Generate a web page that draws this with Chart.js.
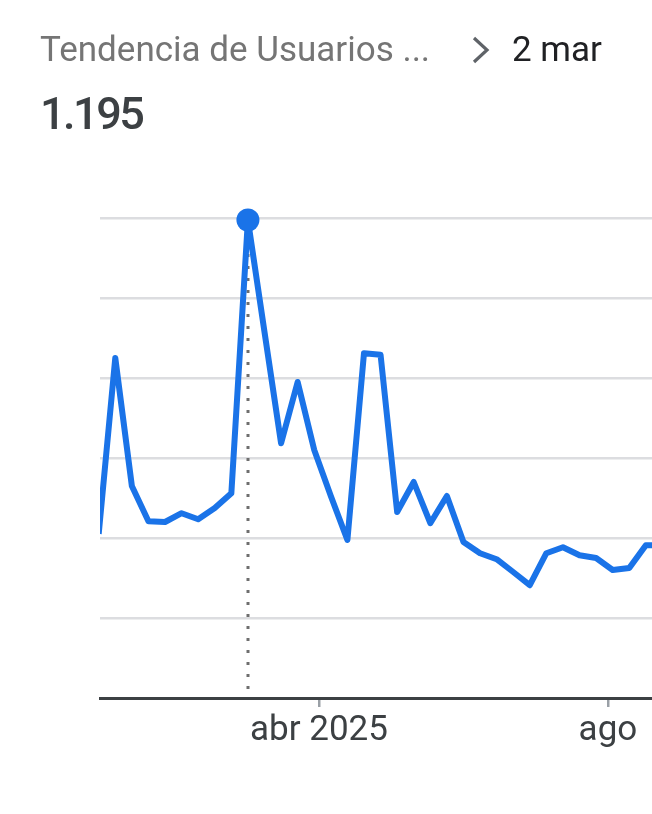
<!DOCTYPE html>
<html><head><meta charset="utf-8">
<script src="https://cdn.jsdelivr.net/npm/chart.js@4"></script>
<style>
html,body{margin:0;padding:0;background:#fff;width:652px;height:814px;overflow:hidden;font-family:Roboto,sans-serif}
#wrap{position:relative;width:652px;height:814px}
canvas{position:absolute;left:0;top:0}
.title{position:absolute;left:40px;top:28px;font-size:35px;line-height:44px;color:#757575;white-space:nowrap}
.date{position:absolute;left:512px;top:28px;font-size:35px;line-height:44px;color:#202124;white-space:nowrap}
.value{position:absolute;left:40px;top:87px;font-size:45px;line-height:54px;font-weight:500;letter-spacing:-2.5px;color:#3c4043;white-space:nowrap}
svg.chev{position:absolute;left:470px;top:36px}
</style></head>
<body>
<div id="wrap">
<canvas id="c" width="652" height="814"></canvas>
<div class="title" id="title"></div>
<svg class="chev" width="24" height="30" viewBox="0 0 24 30"><polyline points="4,2 17,14 4,26" fill="none" stroke="#5f6368" stroke-width="3.2"/></svg>
<div class="date" id="date"></div>
<div class="value" id="value"></div>
</div>
<script>
// ---- data ----
const titleText = 'Tendencia de Usuarios ...';
const weeks = ['2024-12-29','2025-01-05','2025-01-12','2025-01-19','2025-01-26','2025-02-02','2025-02-09','2025-02-16','2025-02-23','2025-03-02','2025-03-09','2025-03-16','2025-03-23','2025-03-30','2025-04-06','2025-04-13','2025-04-20','2025-04-27','2025-05-04','2025-05-11','2025-05-18','2025-05-25','2025-06-01','2025-06-08','2025-06-15','2025-06-22','2025-06-29','2025-07-06','2025-07-13','2025-07-20','2025-07-27','2025-08-03','2025-08-10','2025-08-17','2025-08-24'];
const users = [410,850,530,442,440,462,447,475,512,1195,915,637,790,620,505,395,862,858,465,540,437,505,390,362,347,315,282,362,377,357,350,320,325,382,382];
const tickDates = ['2025-04-01','2025-08-01'];
const tickLabels = ['abr 2025','ago'];
const highlightIndex = 9;
const highlightLabel = '2 mar';
const yTicks = [0,200,400,600,800,1000,1200];

// ---- helpers ----
const dayNum = s => (Date.UTC(+s.slice(0,4), +s.slice(5,7)-1, +s.slice(8,10)) - Date.UTC(2025,0,1)) / 86400000;
document.getElementById('title').textContent = titleText;
document.getElementById('date').textContent = highlightLabel;
document.getElementById('value').textContent = String(users[highlightIndex]).replace(/\B(?=(\d{3})+(?!\d))/g,'.');

const points = weeks.map((w,i)=>({x:dayNum(w), y:users[i]}));

const dotted = {
  id:'dotted',
  beforeDatasetsDraw(chart){
    const c = chart.ctx, xs = chart.scales.x, ys = chart.scales.y;
    const p = points[highlightIndex];
    const x = Math.round(xs.getPixelForValue(p.x));
    c.save();
    c.strokeStyle = '#6e6e6e';
    c.lineWidth = 3;
    c.setLineDash([3, 9]);
    c.beginPath();
    c.moveTo(x, ys.getPixelForValue(p.y) + 10);
    c.lineTo(x, ys.getPixelForValue(0) - 4);
    c.stroke();
    c.restore();
  }
};

new Chart(document.getElementById('c'), {
  type:'line',
  data:{datasets:[{
    data:points,
    borderColor:'#1a73e8',
    borderWidth:6,
    tension:0,
    borderJoinStyle:'round',
    borderCapStyle:'butt',
    pointRadius: ctx => ctx.dataIndex===highlightIndex ? 11.5 : 0,
    pointBackgroundColor:'#1a73e8',
    pointBorderWidth:0,
    clip:{left:0,right:0,top:false,bottom:0}
  }]},
  options:{
    responsive:false,
    animation:false,
    events:[],
    layout:{padding:{left:100,right:0,top:218,bottom:56}},
    plugins:{legend:{display:false},tooltip:{enabled:false}},
    scales:{
      x:{
        type:'linear', min:-2.45, max:230.6,
        afterBuildTicks: s => { s.ticks = tickDates.map(d=>({value:dayNum(d)})); },
        ticks:{callback:(v,i)=>tickLabels[i], font:{family:'Roboto',size:35}, color:'#3c4043', maxRotation:0, autoSkip:false, padding:3},
        grid:{drawOnChartArea:false, tickLength:9, color:'#9aa0a6', lineWidth:2.5},
        border:{display:true, color:'#3c4043', width:3},
        afterFit: s => { s.height = 60; }
      },
      y:{
        min:0, max:1200,
        afterBuildTicks: s => { s.ticks = yTicks.map(v=>({value:v})); },
        ticks:{display:false},
        grid:{color: c => c.tick && c.tick.value===0 ? 'rgba(0,0,0,0)' : '#dcdde0', lineWidth:2.5, drawTicks:false},
        border:{display:false},
        afterFit: s => { s.width = 0; }
      }
    }
  },
  plugins:[dotted]
});
</script>
</body></html>
